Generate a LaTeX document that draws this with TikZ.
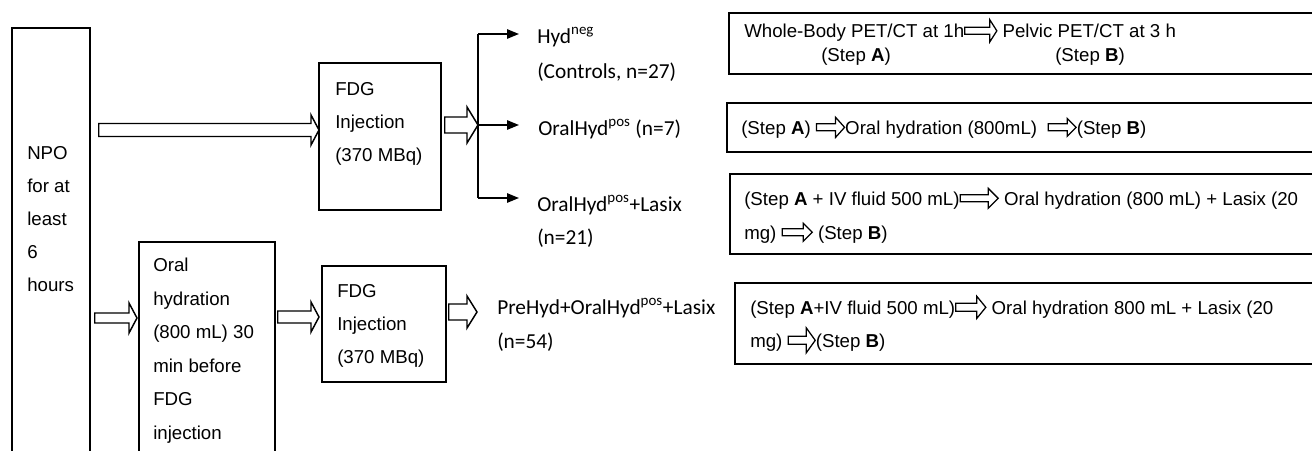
\documentclass[tikz,border=0pt]{standalone}
\usepackage{fontspec}
\setmainfont{Liberation Sans}
\newfontfamily\calfont{Carlito}
\usetikzlibrary{arrows.meta,calc}

\tikzset{
  box/.style={draw, line width=1.3pt, inner sep=0pt, anchor=north west},
  sz/.style 2 args={minimum width={#1*0.75pt}, minimum height={#2*0.75pt}},
  % multi-line texts are placed by the baseline of their last line
  boxtext/.style={anchor=base west, inner sep=0pt, align=left},
  lbl/.style={anchor=base west, inner sep=0pt, font=\calfont\fontsize{16}{19}\selectfont},
  hollow/.style={draw, line width=1.1pt, fill=white, line join=miter},
  branch/.style={line width=1.3pt},
  tip/.style={-{Triangle[length=9pt,width=7pt]}}
}

% small outlined arrow set inside running text:
% #1 total length, #2 shaft height, #3 head height, #4 head length (all in px)
\newcommand\inarrow[4]{\tikz[x=0.75pt,y=0.75pt,baseline=-5pt,line width=0.95pt,line join=miter]
  \draw (0,-#2/2) -- (#1-#4,-#2/2) -- (#1-#4,-#3/2) -- (#1,0) -- (#1-#4,#3/2) -- (#1-#4,#2/2) -- (0,#2/2) -- cycle;}

% outlined block arrow between two points:
% #1 start, #2 tip, #3 shaft half height, #4 head half height, #5 head length
\newcommand\blockarrow[5]{%
  \draw[hollow] ($(#1)+(0,#3)$) -- ($(#2)+(-#5,#3)$) -- ($(#2)+(-#5,#4)$) -- (#2)
    -- ($(#2)+(-#5,-#4)$) -- ($(#2)+(-#5,-#3)$) -- ($(#1)+(0,-#3)$) -- cycle;}

\begin{document}
\begin{tikzpicture}[x=0.75pt,y=-0.75pt]
\useasboundingbox (0,0) rectangle (1312,450);
\fill[white] (0,0) rectangle (1312,450);
\clip (0,0) rectangle (1312,450);

% ---- boxes ----
\node[box, sz={78}{480}] (npo) at (11,27) {};
\node[box, sz={122}{147}] (fdgA) at (318,62) {};
\node[box, sz={136}{260}] (oral) at (138,241) {};
\node[box, sz={124}{116}] (fdgB) at (321,265) {};
\node[box, sz={620}{61}] (r1) at (728,12) {};
\node[box, sz={620}{49}] (r2) at (726,102) {};
\node[box, sz={620}{80}] (r3) at (729,173) {};
\node[box, sz={620}{81}] (r4) at (734,282) {};

% ---- box texts ----
\node[boxtext, font=\fontsize{14}{24.75}\selectfont] (npotxt) at ($(npo.north west)+(16,264.5)$)
  {NPO\\for at\\least\\6\\hours};
\node[boxtext, font=\fontsize{14}{25.2}\selectfont] (oraltxt) at ($(oral.north west)+(15,198.5)$)
  {Oral\\hydration\\(800 mL) 30\\min before\\FDG\\injection};
\node[boxtext, font=\fontsize{14}{25}\selectfont] (fdgAtxt) at ($(fdgA.north west)+(17,99.7)$)
  {FDG\\Injection\\(370 MBq)};
\node[boxtext, font=\fontsize{14}{25}\selectfont] (fdgBtxt) at ($(fdgB.north west)+(16,98.7)$)
  {FDG\\Injection\\(370 MBq)};

\node[boxtext, font=\fontsize{14}{18}\selectfont] (r1txt) at ($(r1.north west)+(16,49.5)$)
  {Whole-Body PET/CT at 1h\inarrow{32}{7}{22}{7} Pelvic PET/CT at 3 h\\
   \hspace*{57.75pt}\rlap{(Step \textbf{A})}\hspace*{175.5pt}(Step \textbf{B})};
\node[boxtext, font=\fontsize{14}{18}\selectfont] (r2txt) at ($(r2.north west)+(15,32)$)
  {(Step \textbf{A}) \inarrow{28}{7}{20}{9}Oral hydration (800mL)~ \inarrow{28}{7}{18}{9}(Step \textbf{B})};
\node[boxtext, font=\fontsize{14}{25.5}\selectfont] (r3txt) at ($(r3.north west)+(15,66)$)
  {(Step \textbf{A} + IV fluid 500 mL)\inarrow{38}{7}{20}{10} Oral hydration (800 mL) + Lasix (20\\
   mg) \inarrow{30}{7}{18}{9} (Step \textbf{B})};
\node[boxtext, font=\fontsize{14}{24.75}\selectfont] (r4txt) at ($(r4.north west)+(16,65)$)
  {(Step \textbf{A}+IV fluid 500 mL)\inarrow{30}{8}{22}{9} Oral hydration 800 mL + Lasix (20\\
   mg) \inarrow{27}{8}{25}{9}(Step \textbf{B})};

% ---- group labels ----
\node[lbl] (hneg) at (537,43) {Hyd\textsuperscript{neg}};
\node[lbl] (ctrl) at ($(hneg.base west)+(0,35)$) {(Controls, n=27)};
\node[lbl] (oh7) at (538,135) {OralHyd\textsuperscript{pos} (n=7)};
\node[lbl] (ohl) at (537,211) {OralHyd\textsuperscript{pos}+Lasix};
\node[lbl] (n21) at ($(ohl.base west)+(0,33)$) {(n=21)};
\node[lbl] (pre) at (497,314) {PreHyd+OralHyd\textsuperscript{pos}+Lasix};
\node[lbl] (n54) at ($(pre.base west)+(0,34)$) {(n=54)};

% ---- branching connector ----
\coordinate (brtop) at (478,34);
\coordinate (brmid) at (478,125);
\coordinate (brbot) at (478,198);
\draw[branch] (brtop) -- (brbot);
\draw[branch, tip, shorten >=13.5pt] (brtop) -- (brtop -| hneg.west);
\draw[branch, tip, shorten >=14.25pt] (brmid) -- (brmid -| oh7.west);
\draw[branch, tip, shorten >=13.5pt] (brbot) -- (brbot -| ohl.west);

% ---- block arrows ----
\coordinate (a1s) at ($(npo.north east)+(8,103)$);
\coordinate (a1e) at ($(fdgA.north west)+(1,68)$);
\blockarrow{a1s}{a1e}{6.5}{15}{8}
\coordinate (a2s) at ($(fdgA.north east)+(3,63)$);
\blockarrow{a2s}{brmid}{8}{18}{11}
\coordinate (a3s) at ($(npo.north east)+(4,291)$);
\coordinate (a3e) at ($(oral.north west)+(-1,77)$);
\blockarrow{a3s}{a3e}{5}{15}{8}
\coordinate (a4s) at ($(oral.north east)+(2,76)$);
\coordinate (a4e) at ($(fdgB.north west)+(-2,52)$);
\blockarrow{a4s}{a4e}{6}{15}{8}
\coordinate (a5s) at ($(fdgB.north east)+(2,47)$);
\coordinate (a5e) at ($(pre.base west)+(-20,-2)$);
\blockarrow{a5s}{a5e}{8}{16}{10}
\end{tikzpicture}
\end{document}
